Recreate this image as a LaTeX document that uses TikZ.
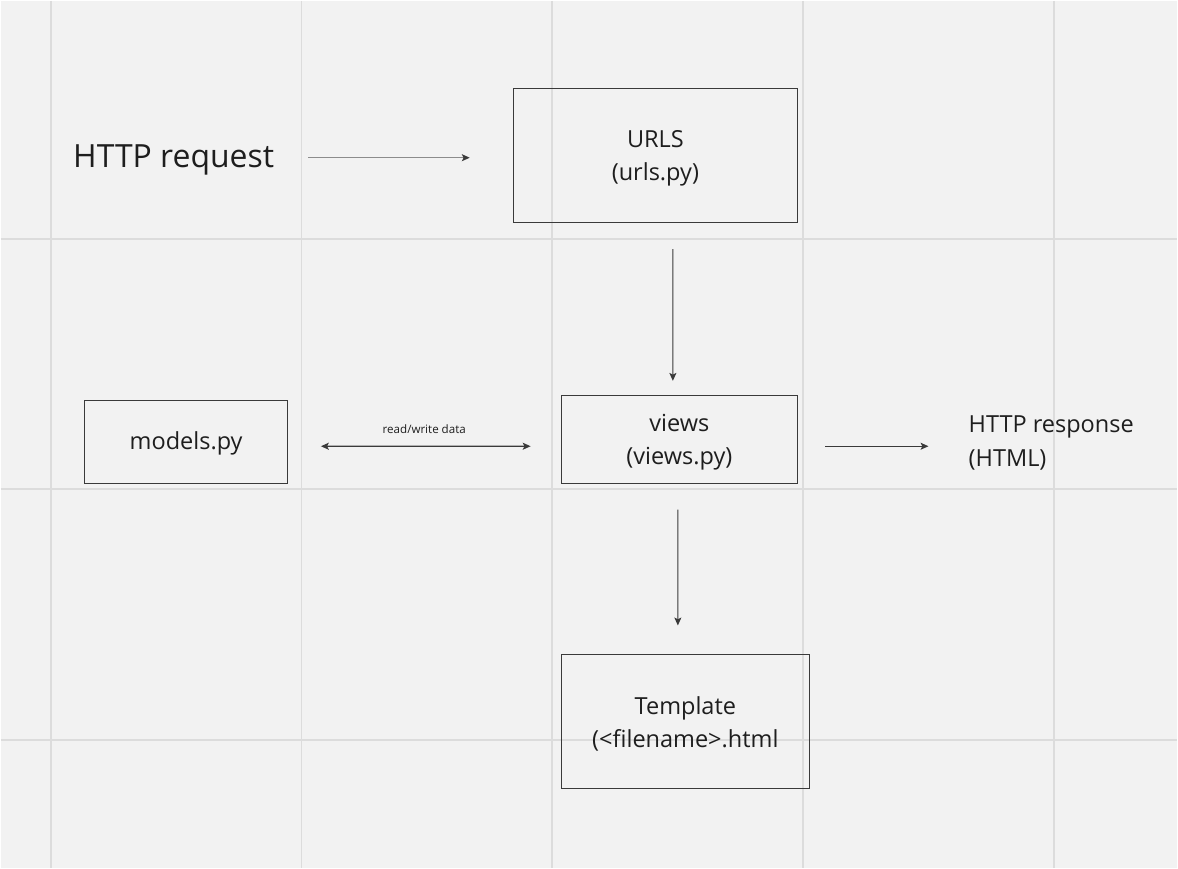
\documentclass[tikz,border=0pt]{standalone}
\usepackage{fontspec}
\setmainfont{Open Sans}
\usetikzlibrary{arrows.meta}
\definecolor{paper}{HTML}{F2F2F2}
\definecolor{gridgray}{HTML}{DCDCDC}
\definecolor{ink}{HTML}{1E1E1E}
\definecolor{edgegray}{HTML}{3A3A3A}

\begin{document}
\begin{tikzpicture}[x=0.02cm,y=-0.02cm,
    box/.style={draw=edgegray,line width=0.6pt,align=center,text=ink,inner sep=0pt,
      font=\fontsize{13.4}{18.9}\selectfont,text depth=#1},
    box/.default=-0.6pt,
    plain/.style={text=ink,inner sep=0pt},
    flow/.style={draw=edgegray,line width=0.6pt,-{Stealth[length=4.5pt,width=4pt,inset=1pt,color=edgegray]}},
    gridline/.style={draw=gridgray,line width=1.1pt}]
    \fill[paper] (0,0) rectangle (1178,868);
    \foreach \x in {50,301,552,803,1055}
      \draw[gridline] (\x,0) -- (\x,868);
    \foreach \y in {238,489,740}
      \draw[gridline] (0,\y) -- (1178,\y);

    \node[plain,anchor=west,font=\fontsize{18.2}{22}\selectfont] (req) at (72,159) {HTTP request};
    \node[box,minimum width=5.7cm,minimum height=2.68cm] (urls) at (655.5,155) {URLS\\(urls.py)};
    \node[box,minimum width=4.74cm,minimum height=1.76cm] (views) at (679.5,439) {views\\(views.py)};
    \node[box=1.4pt,minimum width=4.06cm,minimum height=1.66cm] (models) at (185.5,441.5) {models.py};
    \node[box,minimum width=4.98cm,minimum height=2.68cm] (tmpl) at (685.5,722) {Template\\(<filename>.html};
    \node[plain,anchor=west,align=left,font=\fontsize{13.4}{19.5}\selectfont] (resp) at (969,443) {HTTP response\\(HTML)};

    \draw[flow,draw=gray!90,shorten <=0.68cm,shorten >=0.86cm]
      ([yshift=0.04cm]req.east) -- ([yshift=0.04cm]req.east -| urls.west);
    \draw[flow,shorten <=0.52cm,shorten >=0.28cm]
      ([xshift=0.35cm]urls.south) -- ([xshift=-0.13cm]views.north);
    \draw[flow,{Stealth[length=4.5pt,width=4pt,inset=1pt]}-{Stealth[length=4.5pt,width=4pt,inset=1pt]},
      shorten <=0.66cm,shorten >=0.6cm]
      ([yshift=-0.09cm]models.east) -- node[above=3.5pt,text=ink,font=\fontsize{6.6}{8}\selectfont] {read/write data}
      ([yshift=-0.14cm]views.west);
    \draw[flow,shorten <=0.54cm,shorten >=0.8cm]
      ([yshift=-0.14cm]views.east) -- ([yshift=-0.14cm]views.east -| resp.west);
    \draw[flow,shorten <=0.52cm,shorten >=0.58cm]
      ([xshift=-0.03cm]views.south) -- ([xshift=-0.15cm]tmpl.north);
\end{tikzpicture}
\end{document}
